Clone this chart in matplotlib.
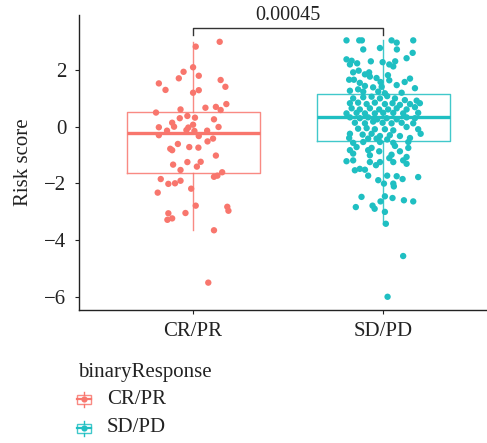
import matplotlib
matplotlib.use("Agg")
import matplotlib.pyplot as plt
from matplotlib.patches import Rectangle
from matplotlib.lines import Line2D

plt.rcParams['font.family'] = ['Liberation Serif', 'DejaVu Serif']

# группы и цвета
groups = ["CR/PR", "SD/PD"]
colors = ["#F8766D", "#1FBFC2"]

# статистика боксплотов
box_q1 = [-1.63, -0.49]
box_med = [-0.23, 0.35]
box_q3 = [0.53, 1.14]
box_lo = [-3.65, -3.43]
box_hi = [3.00, 3.05]

# точки CR/PR: смещение jitter и значение
cr_offset = [0.14, 0.014, 0.0, -0.05, 0.03, -0.075, -0.18, 0.145, 0.17, -0.145,
             0.0, 0.03, 0.175, 0.065, 0.12, 0.145, -0.066, -0.195, -0.03, -0.07,
             0.01, 0.11, -0.11, 0.0, -0.10, -0.18, 0.134, -0.025, -0.035, -0.137,
             0.007, 0.074, -0.18, 0.03, 0.105, 0.076, -0.08, -0.12, -0.11, -0.02,
             0.028, 0.12, -0.03, 0.04, -0.105, 0.02, -0.066, -0.17, -0.13, -0.095,
             -0.066, 0.11, 0.128, 0.153, -0.186, -0.01, 0.014, 0.18, 0.186, -0.13,
             -0.04, -0.135, -0.11, 0.11, 0.08]
cr_score = [3.00, 2.83, 2.10, 1.94, 1.80, 1.71, 1.53, 1.65, 1.41, 1.30,
            1.20, 1.29, 0.80, 0.67, 0.70, 0.59, 0.61, 0.50, 0.38, 0.30,
            0.32, 0.26, 0.14, 0.07, 0.00, -0.02, -0.01, -0.03, -0.12, -0.14,
            -0.15, -0.14, -0.30, -0.33, -0.42, -0.52, -0.61, -0.78, -0.83, -0.72,
            -0.74, -1.02, -1.25, -1.24, -1.34, -1.41, -1.53, -1.85, -2.02, -2.00,
            -1.91, -1.77, -1.73, -1.61, -2.33, -2.19, -2.79, -2.83, -2.97, -3.06,
            -3.05, -3.29, -3.24, -3.66, -5.51]

# точки SD/PD
sd_offset = [-0.193, -0.126, -0.112, 0.044, 0.071, 0.158, -0.105, -0.017, 0.072, 0.155,
             0.123, -0.193, -0.166, -0.175, -0.137, -0.065, -0.003, 0.063, 0.032, 0.053,
             -0.158, -0.129, -0.096, -0.074, -0.070, -0.035, 0.025, 0.032, 0.141, 0.113,
             -0.179, -0.154, -0.123, -0.014,
             -0.096, -0.053, -0.008, 0.071, 0.167, -0.105, -0.026, 0.009, 0.097, -0.175,
             -0.132,
             -0.158, -0.105, -0.061, -0.017, 0.021, 0.062, 0.114, 0.176, 0.193, -0.175,
             -0.132, -0.087, -0.044, 0.009, 0.049, 0.088, 0.141, -0.166, -0.123, -0.070,
             -0.021, 0.026, 0.071, 0.123, 0.167, -0.193, -0.140, -0.096, -0.044, 0.0,
             0.053, 0.105, 0.184,
             -0.175, -0.123, -0.079, -0.032, 0.018, 0.071, 0.123, 0.167, -0.149, -0.096,
             -0.053, -0.003, 0.044, 0.097, 0.158,
             0.123, -0.132, -0.087, -0.044, 0.009, 0.053, 0.184, -0.175, -0.108, -0.061,
             -0.017, 0.035, 0.088, 0.141, 0.197, -0.179, -0.079, -0.035, 0.021, -0.158,
             -0.105, -0.017, 0.053, 0.132, -0.140, -0.061, 0.062, 0.132, -0.175, -0.079,
             -0.021, 0.088, -0.158, -0.070, 0.044, 0.032, 0.123, -0.193, -0.158, -0.070,
             -0.017, 0.053, 0.105, 0.123, -0.038,
             -0.149, -0.123, -0.096, -0.079, -0.026, 0.021, 0.071, 0.102, 0.184, 0.004,
             0.053, 0.056, -0.114, 0.009, 0.049, -0.014, 0.109, 0.158, -0.144, -0.056,
             -0.045, 0.009, 0.014, 0.105, 0.023]
sd_score = [3.05, 3.05, 3.05, 3.05, 2.97, 3.05, 2.73, 2.78, 2.73, 2.61,
            2.42, 2.38, 2.33, 2.20, 2.24, 2.31, 2.28, 2.31, 2.20, 2.13,
            1.92, 1.98, 1.85, 1.92, 1.77, 1.72, 1.82, 1.64, 1.70, 1.58,
            1.66, 1.66, 1.55, 1.58,
            1.44, 1.39, 1.41, 1.47, 1.36, 1.24, 1.24, 1.18, 1.20, 1.27,
            1.32,
            1.00, 1.04, 1.06, 1.00, 1.08, 1.00, 0.94, 0.92, 0.83, 0.83,
            0.85, 0.80, 0.85, 0.80, 0.83, 0.77, 0.80, 0.65, 0.61, 0.65,
            0.61, 0.61, 0.65, 0.61, 0.69, 0.47, 0.49, 0.47, 0.47, 0.49,
            0.49, 0.47, 0.49,
            0.33, 0.30, 0.33, 0.26, 0.30, 0.26, 0.33, 0.30, 0.14, 0.12,
            0.18, 0.14, 0.12, 0.14, 0.12,
            -0.01, -0.07, -0.05, -0.09, -0.09, -0.13, -0.09, -0.25, -0.28, -0.25,
            -0.33, -0.30, -0.33, -0.40, -0.25, -0.40, -0.42, -0.42, -0.45, -0.57,
            -0.54, -0.54, -0.57, -0.54, -0.72, -0.75, -0.68, -0.75, -0.83, -0.83,
            -0.87, -0.87, -0.95, -1.01, -0.99, -1.11, -1.07, -1.22, -1.19, -1.25,
            -1.25, -1.25, -1.19, -1.31, -1.36,
            -1.54, -1.49, -1.52, -1.73, -1.89, -1.73, -1.75, -1.85, -1.78, -2.01,
            -2.01, -2.11, -2.48, -2.46, -2.52, -2.64, -2.60, -2.64, -2.84, -2.79,
            -2.90, -3.01, -3.43, -4.57, -6.01]

p_value = "0.00045"

fig = plt.figure(figsize=(4.87, 4.43), dpi=100)
ax = fig.add_axes([79 / 487, 133 / 443, 408 / 487, 295 / 443])

# точки
pts = [(cr_offset, cr_score), (sd_offset, sd_score)]
for i, (off, sc) in enumerate(pts):
    ax.scatter([i + 1 + o for o in off], sc, s=21, color=colors[i],
               edgecolors="none", zorder=2)

# боксплоты
for i in range(2):
    stats = [dict(med=box_med[i], q1=box_q1[i], q3=box_q3[i],
                  whislo=box_lo[i], whishi=box_hi[i], fliers=[])]
    ax.bxp(stats, positions=[i + 1], widths=0.7, showcaps=False,
           showfliers=False, manage_ticks=False, patch_artist=False,
           boxprops=dict(color=colors[i], lw=1.0, alpha=0.85),
           whiskerprops=dict(color=colors[i], lw=1.0, alpha=0.85),
           medianprops=dict(color=colors[i], lw=2.4), zorder=3)

# скобка с p-value
ax.plot([1, 1, 2, 2], [3.24, 3.48, 3.48, 3.24], color="#333333", lw=1.0,
        clip_on=False, zorder=4)
ax.text(1.5, 3.77, p_value, ha="center", va="baseline", fontsize=14.5,
        color="#222222", clip_on=False)

ax.set_xlim(0.4, 2.546)
ax.set_ylim(-6.477, 3.947)
ax.set_xticks([1, 2])
ax.set_xticklabels(groups)
ax.set_yticks([-6, -4, -2, 0, 2])
ax.set_yticklabels(["\u22126", "\u22124", "\u22122", "0", "2"])
ax.set_ylabel("Risk score", fontsize=15, color="#222222", labelpad=8)
ax.tick_params(labelsize=15, length=3, width=0.8, colors="#222222", pad=6)
for s in ["top", "right"]:
    ax.spines[s].set_visible(False)
for s in ["left", "bottom"]:
    ax.spines[s].set_linewidth(1.0)
    ax.spines[s].set_color("#222222")

# легенда внизу
fig.text(78 / 487, 1 - 372 / 443, "binaryResponse", fontsize=15,
         va="center", ha="left", color="#222222")
for i, yc in enumerate([399, 428]):
    cx, cy = 84 / 487, 1 - yc / 443
    w, h = 14 / 487, 9 / 443
    fig.patches.append(Rectangle((cx - w / 2, cy - h / 2), w, h, fill=False,
                                 edgecolor=colors[i], lw=1.0, alpha=0.85,
                                 transform=fig.transFigure))
    fig.lines.append(Line2D([cx, cx], [cy - h / 2 - 3 / 443, cy - h / 2],
                            color=colors[i], lw=1.0, transform=fig.transFigure))
    fig.lines.append(Line2D([cx, cx], [cy + h / 2, cy + h / 2 + 3 / 443],
                            color=colors[i], lw=1.0, transform=fig.transFigure))
    fig.lines.append(Line2D([cx - w / 2, cx + w / 2], [cy, cy],
                            color=colors[i], lw=1.6, transform=fig.transFigure))
    fig.lines.append(Line2D([cx], [cy], marker="o", ms=4.5, color=colors[i],
                            mec="none", transform=fig.transFigure))
    fig.text(107 / 487, cy, groups[i], fontsize=15, va="center", ha="left",
             color="#222222")

fig.savefig("out.png", dpi=100)
